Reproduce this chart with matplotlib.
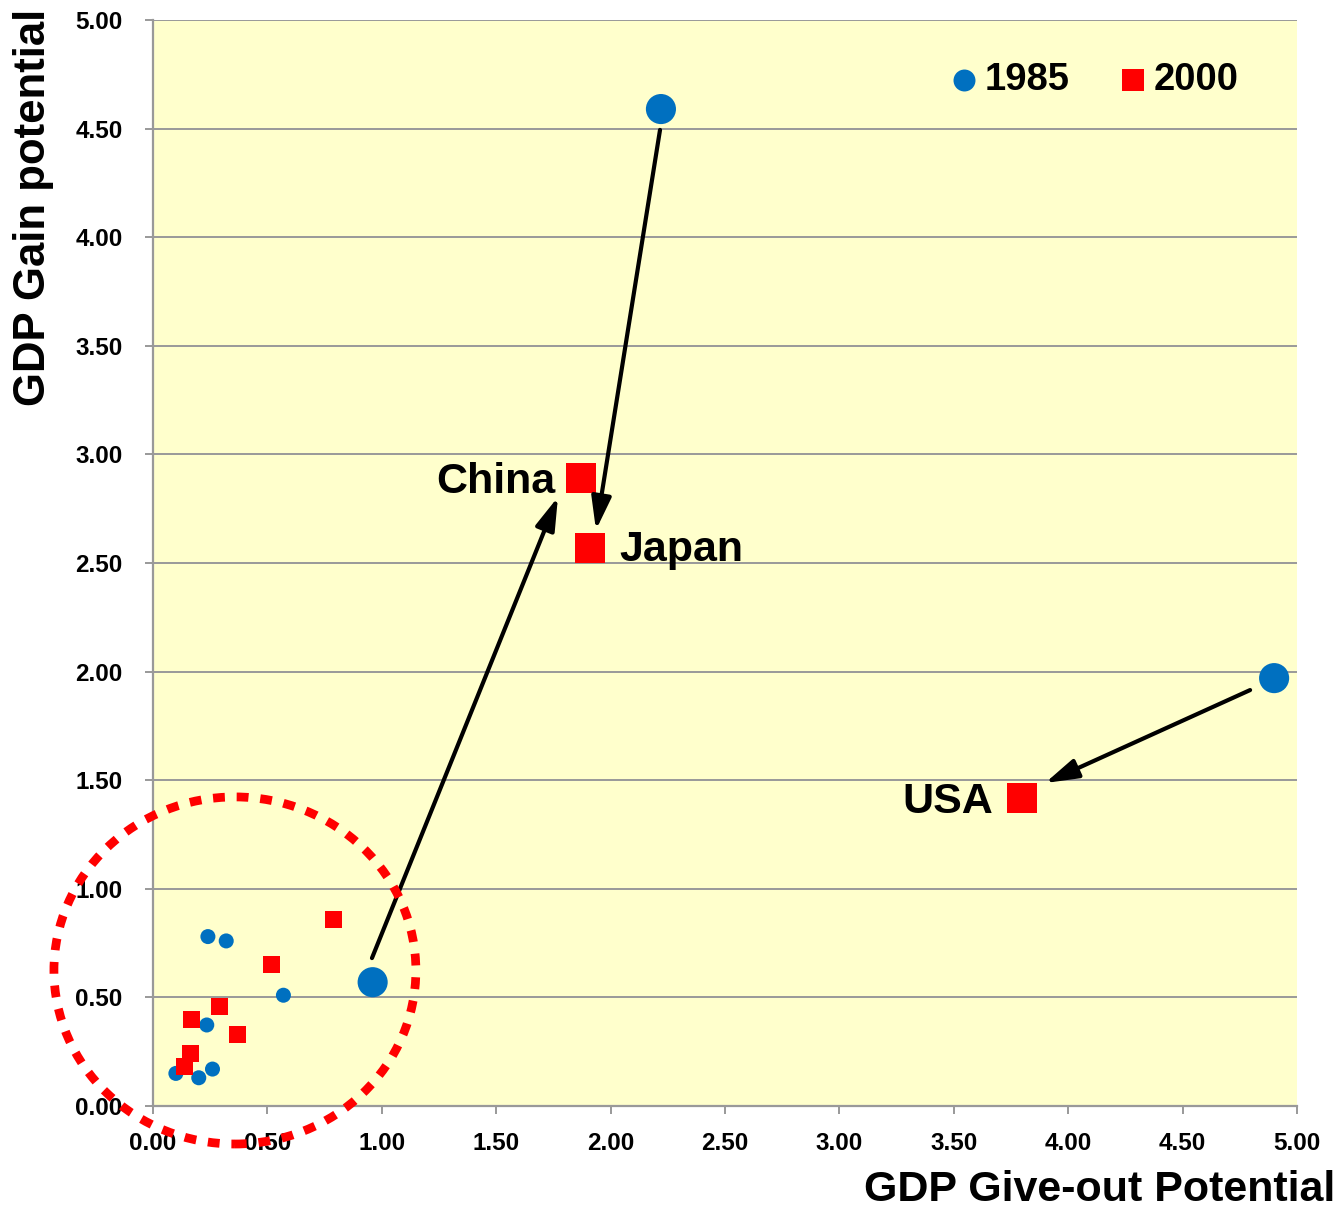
import matplotlib
matplotlib.use("Agg")
import matplotlib.pyplot as plt
from matplotlib.patches import Ellipse

plt.rcParams['font.family'] = ['Liberation Sans', 'DejaVu Sans']
plt.rcParams['font.weight'] = 'bold'

# ---------------- data ----------------
x1985 = [2.22, 4.90, 0.96, 0.24, 0.32, 0.57, 0.235, 0.10, 0.20, 0.26]
y1985 = [4.59, 1.97, 0.57, 0.78, 0.76, 0.51, 0.373, 0.15, 0.13, 0.17]
big1985 = [True, True, True, False, False, False, False, False, False, False]

x2000 = [1.87, 1.91, 3.80, 0.79, 0.52, 0.29, 0.17, 0.37, 0.162, 0.138]
y2000 = [2.89, 2.57, 1.42, 0.86, 0.65, 0.46, 0.40, 0.33, 0.243, 0.181]
big2000 = [True, True, True, False, False, False, False, False, False, False]

country_labels = ['China', 'Japan', 'USA']
label_point_idx = [0, 1, 2]          # index into 2000 arrays

# arrows: (tail x, tail y) -> (head x, head y)
arrow_tail_x = [0.957, 2.216, 4.795]
arrow_tail_y = [0.681, 4.494, 1.915]
arrow_head_x = [1.770, 1.936, 3.899]
arrow_head_y = [2.804, 2.652, 1.487]

# dotted ellipse around the small economies
ell_cx, ell_cy, ell_w, ell_h = 0.358, 0.624, 1.582, 1.598

ticks = [0.0, 0.5, 1.0, 1.5, 2.0, 2.5, 3.0, 3.5, 4.0, 4.5, 5.0]
tick_labels = ['%.2f' % t for t in ticks]
series_names = ['1985', '2000']
xlabel = 'GDP Give-out Potential'
ylabel = 'GDP Gain potential'

# ---------------- style ----------------
W, H, DPI = 1342, 1211, 100
BLUE = '#0070C0'
RED = '#FF0000'
BG = '#FFFFCC'
GRID = '#999999'

fig = plt.figure(figsize=(W / DPI, H / DPI), dpi=DPI)
ax = fig.add_axes([153 / W, 1 - 1106 / H, (1297 - 153) / W, (1106 - 20) / H])
ax.set_facecolor(BG)
ax.set_xlim(0, 5)
ax.set_ylim(0, 5)

ax.set_xticks(ticks)
ax.set_xticklabels(tick_labels)
ax.set_yticks(ticks)
ax.set_yticklabels(tick_labels)
ax.tick_params(axis='both', direction='out', length=6, width=1.4, color=GRID,
               labelsize=17.5, labelcolor='black')
ax.tick_params(axis='x', pad=13)
ax.tick_params(axis='y', pad=16)
for lab in ax.get_xticklabels() + ax.get_yticklabels():
    lab.set_fontweight('bold')

ax.yaxis.grid(True, color=GRID, linewidth=1.4)
ax.xaxis.grid(False)
ax.set_axisbelow(True)
for s in ['top', 'right']:
    ax.spines[s].set_visible(False)
for s in ['left', 'bottom']:
    ax.spines[s].set_color(GRID)
    ax.spines[s].set_linewidth(1.6)

# 1985 circles
s85 = [470 if b else 117 for b in big1985]
ax.scatter(x1985, y1985, s=s85, c=BLUE, marker='o', linewidths=0, zorder=3,
           clip_on=False)
# 2000 squares
s00 = [467 if b else 150 for b in big2000]
ax.scatter(x2000, y2000, s=s00, c=RED, marker='s', linewidths=0, zorder=4,
           clip_on=False)

# legend
h1 = ax.scatter([], [], s=250, c=BLUE, marker='o', linewidths=0)
h2 = ax.scatter([], [], s=230, c=RED, marker='s', linewidths=0)
ax.legend([h1, h2], series_names, loc='center right', bbox_to_anchor=(0.949, 0.9445),
          ncol=2, frameon=False, prop={'size': 27.5, 'weight': 'bold'},
          handlelength=0.6, handletextpad=0.25, columnspacing=1.35, borderpad=0,
          borderaxespad=0)

# arrows
for tx, ty, hx, hy in zip(arrow_tail_x, arrow_tail_y, arrow_head_x, arrow_head_y):
    ax.annotate('', xy=(hx, hy), xytext=(tx, ty),
                arrowprops=dict(arrowstyle='-|>,head_length=1.0,head_width=0.3',
                                color='black', lw=3, mutation_scale=20,
                                shrinkA=0, shrinkB=0),
                zorder=5)

# country labels
label_offsets = [(-18, -10.8, 'right'), (20.9, -9.6, 'left'), (-21.4, -11.3, 'right')]
for name, idx, (dx, dy, ha) in zip(country_labels, label_point_idx, label_offsets):
    ax.annotate(name, xy=(x2000[idx], y2000[idx]), xytext=(dx, dy),
                textcoords='offset points', ha=ha, va='baseline',
                fontsize=31, fontweight='bold', color='black', zorder=6)

# dotted ellipse
ell = Ellipse((ell_cx, ell_cy), ell_w, ell_h, fill=False, edgecolor=RED,
              linewidth=6.3, linestyle=(0, (1.35, 1.35)), clip_on=False, zorder=6)
ell.set_capstyle('butt')
ax.add_patch(ell)

# axis titles
fig.text(1335 / W, 1 - 1190 / H, xlabel, ha='right', va='center',
         fontsize=31, fontweight='bold')
fig.text(34 / W, 1 - 207 / H, ylabel, ha='center', va='center', rotation=90,
         fontsize=31.5, fontweight='bold')

fig.savefig('out.png', dpi=DPI, facecolor='white')
